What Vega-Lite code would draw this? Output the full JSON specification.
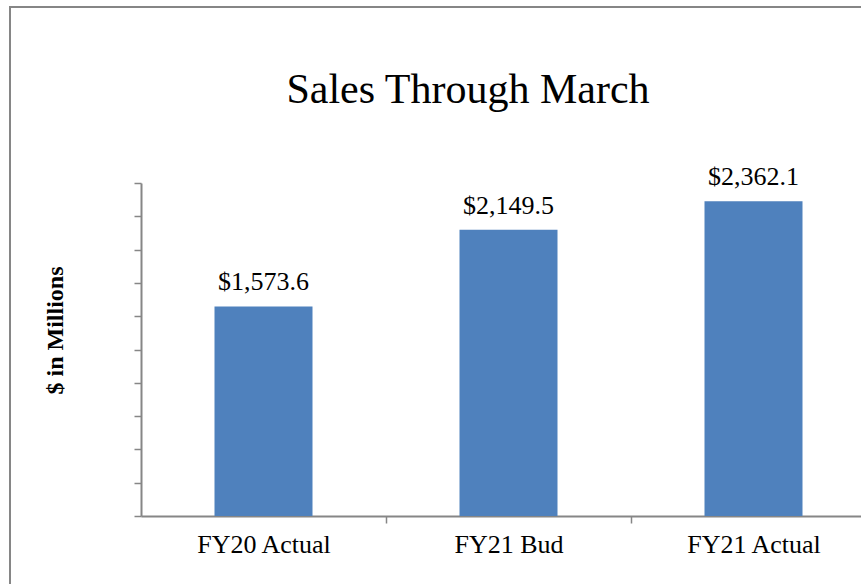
{
  "$schema": "https://vega.github.io/schema/vega-lite/v6.json",
  "autosize": "none",
  "padding": {"left": 10, "top": 7, "right": 0, "bottom": 0},
  "width": 900,
  "height": 600,
  "background": "white",
  "config": {
    "view": {"stroke": "#868686", "strokeWidth": 2},
    "font": "Liberation Serif"
  },
  "title": {
    "text": "Sales Through March",
    "font": "Liberation Serif",
    "fontSize": 42,
    "fontWeight": "normal",
    "color": "black",
    "anchor": "middle",
    "frame": "group",
    "baseline": "alphabetic",
    "orient": "top",
    "offset": 0,
    "dx": 8,
    "dy": 138
  },
  "data": {
    "values": [
      {"category": "FY20 Actual", "sales": 1573.6},
      {"category": "FY21 Bud", "sales": 2149.5},
      {"category": "FY21 Actual", "sales": 2362.1}
    ]
  },
  "encoding": {
    "x": {
      "field": "category",
      "type": "nominal",
      "sort": null,
      "scale": {"type": "band", "range": [131, 866], "paddingInner": 0.6, "paddingOuter": 0.3},
      "axis": {
        "title": null,
        "orient": "bottom",
        "offset": -91,
        "domainColor": "#868686",
        "domainWidth": 2,
        "tickColor": "#868686",
        "tickWidth": 1.5,
        "tickSize": 7,
        "tickOffset": 122.5,
        "labelOffset": -122.5,
        "labelAngle": 0,
        "labelFont": "Liberation Serif",
        "labelFontSize": 26,
        "labelColor": "black",
        "labelBaseline": "alphabetic",
        "labelPadding": 29
      }
    },
    "y": {
      "field": "sales",
      "type": "quantitative",
      "scale": {"domain": [0, 2500], "range": [509, 176], "nice": false},
      "axis": {
        "title": "$ in Millions",
        "orient": "left",
        "offset": -131,
        "values": [0, 250, 500, 750, 1000, 1250, 1500, 1750, 2000, 2250, 2500],
        "labels": false,
        "grid": false,
        "domainColor": "#868686",
        "domainWidth": 2,
        "tickColor": "#868686",
        "tickWidth": 1.5,
        "tickSize": 7,
        "titleFont": "Liberation Serif",
        "titleFontSize": 24,
        "titleFontWeight": "bold",
        "titleColor": "black",
        "titleAngle": -90,
        "titleAlign": "center",
        "titleBaseline": "middle",
        "titleX": -86,
        "titleY": 323
      }
    }
  },
  "layer": [
    {"mark": {"type": "bar", "color": "#4F81BD"}},
    {
      "mark": {"type": "text", "font": "Liberation Serif", "fontSize": 26, "color": "black", "baseline": "alphabetic", "dy": -16},
      "encoding": {"text": {"field": "sales", "type": "quantitative", "format": "$,.1f"}}
    }
  ]
}
